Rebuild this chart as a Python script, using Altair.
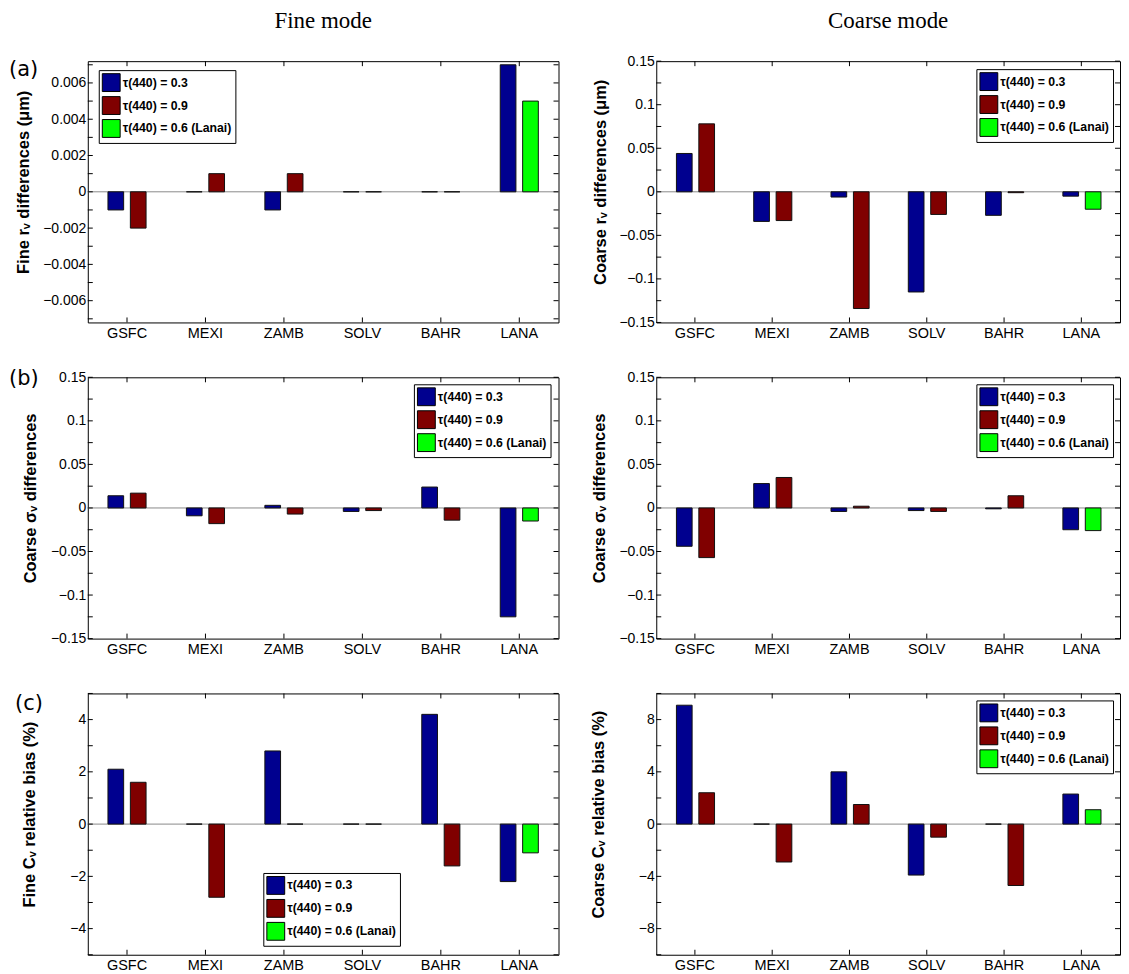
import altair as alt
import pandas as pd

SITES = ["GSFC", "MEXI", "ZAMB", "SOLV", "BAHR", "LANA"]
SERIES = ["τ(440) = 0.3", "τ(440) = 0.9", "τ(440) = 0.6 (Lanai)"]
COLORS = ["#00008F", "#800000", "#00FF00"]

# second value at LANA belongs to tau(440)=0.6 (Lanai)
FINE_RV_T03 = [-0.001, 0.0, -0.001, 0.0, 0.0, 0.007]
FINE_RV_T09 = [-0.002, 0.001, 0.001, 0.0, 0.0, 0.005]
COARSE_RV_T03 = [0.044, -0.034, -0.006, -0.115, -0.027, -0.005]
COARSE_RV_T09 = [0.078, -0.033, -0.134, -0.026, -0.001, -0.020]
FINE_SIG_T03 = [0.014, -0.009, 0.003, -0.004, 0.024, -0.125]
FINE_SIG_T09 = [0.017, -0.018, -0.007, -0.003, -0.014, -0.015]
COARSE_SIG_T03 = [-0.044, 0.028, -0.004, -0.003, -0.001, -0.025]
COARSE_SIG_T09 = [-0.057, 0.035, 0.002, -0.004, 0.014, -0.026]
FINE_CV_T03 = [2.1, 0.0, 2.8, 0.0, 4.2, -2.2]
FINE_CV_T09 = [1.6, -2.8, 0.0, 0.0, -1.6, -1.1]
COARSE_CV_T03 = [9.1, 0.0, 4.0, -3.9, 0.0, 2.3]
COARSE_CV_T09 = [2.4, -2.9, 1.5, -1.0, -4.7, 1.1]

COL_TITLES = ["Fine mode", "Coarse mode"]
PANEL_LABELS = ["(a)", "(b)", "(c)"]
Y_TITLES = [
    "Fine rᵥ differences (μm)",
    "Coarse rᵥ differences (μm)",
    "Coarse σᵥ differences",
    "Coarse σᵥ differences",
    "Fine Cᵥ relative bias (%)",
    "Coarse Cᵥ relative bias (%)",
]

DOM_A_FINE = [-0.0072, 0.0072]
TICKS_A_FINE = [-0.007, -0.006, -0.005, -0.004, -0.003, -0.002, -0.001, 0.0,
                0.001, 0.002, 0.003, 0.004, 0.005, 0.006, 0.007]
LABELS_A_FINE = [-0.006, -0.004, -0.002, 0.0, 0.002, 0.004, 0.006]

DOM_015 = [-0.15, 0.15]
TICKS_015 = [-0.15, -0.125, -0.1, -0.075, -0.05, -0.025, 0.0, 0.025, 0.05,
             0.075, 0.1, 0.125, 0.15]
LABELS_015 = [-0.15, -0.1, -0.05, 0.0, 0.05, 0.1, 0.15]

DOM_C_FINE = [-5, 5]
TICKS_C_FINE = [-5, -4, -3, -2, -1, 0, 1, 2, 3, 4, 5]
LABELS_C_FINE = [-4, -2, 0, 2, 4]

DOM_C_COARSE = [-10, 10]
TICKS_C_COARSE = [-10, -8, -6, -4, -2, 0, 2, 4, 6, 8, 10]
LABELS_C_COARSE = [-8, -4, 0, 4, 8]

H = 262
W_LEFT = 472
W_RIGHT = 465
SANS = "Liberation Sans"


def panel(v1, v2, ytitle, domain, ticks, labels, legend_xy, width,
          title_pad, plabel=None, plabel_xy=None, ctitle=None):
    rows = []
    for i, s in enumerate(SITES):
        rows.append({"site": s, "slot": "1", "series": SERIES[0], "value": v1[i]})
        rows.append({"site": s, "slot": "2",
                     "series": SERIES[2] if s == "LANA" else SERIES[1],
                     "value": v2[i]})
    df = pd.DataFrame(rows)

    xscale = alt.Scale(domain=SITES, paddingInner=0, paddingOuter=0)
    yscale = alt.Scale(domain=domain, nice=False, zero=False)

    xax = alt.Axis(title=None, ticks=False, tickSize=0, domain=False,
                   labelAngle=0, labelFontSize=14.5, labelColor="black",
                   labelPadding=4, grid=False, labelFont=SANS)
    yax = alt.Axis(title=ytitle, values=labels,
                   labelExpr="format(datum.value, '.6~g')", ticks=False,
                   tickSize=0, domain=False, grid=False, labelFontSize=14,
                   labelPadding=2, titleFontSize=16.5, titleFontWeight="bold",
                   titlePadding=title_pad, titleColor="black",
                   titleY=H / 2 - 10,
                   labelColor="black", labelFont=SANS, titleFont=SANS)

    base = alt.Chart(pd.DataFrame({"z": [0]})).mark_rule(
        color="#8a8a8a", strokeWidth=1
    ).encode(y=alt.Y("z:Q", scale=yscale, axis=yax))

    bars = alt.Chart(df).mark_bar(stroke="#111111", strokeWidth=1).encode(
        x=alt.X("site:N", scale=xscale, axis=xax, sort=SITES),
        xOffset=alt.XOffset("slot:N", scale=alt.Scale(
            domain=["1", "2"], paddingInner=0.3, paddingOuter=0.9)),
        y=alt.Y("value:Q", scale=yscale, axis=yax),
        color=alt.Color("series:N",
                        scale=alt.Scale(domain=SERIES, range=COLORS),
                        legend=alt.Legend(
                            title=None, orient="none",
                            legendX=legend_xy[0], legendY=legend_xy[1],
                            symbolType="square", symbolSize=320,
                            symbolStrokeColor="black", symbolStrokeWidth=1,
                            symbolOpacity=1, labelFont=SANS,
                            labelFontSize=12.3, labelFontWeight="bold",
                            labelColor="black", labelOffset=2,
                            strokeColor="black", fillColor="white",
                            padding=3, rowPadding=0)),
    )

    tdf = pd.DataFrame({"t": ticks})
    lt = alt.Chart(tdf).mark_rule(color="black", strokeWidth=1).encode(
        y=alt.Y("t:Q", scale=yscale, axis=yax),
        x=alt.value(0), x2=alt.value(5))
    rt = alt.Chart(tdf).mark_rule(color="black", strokeWidth=1).encode(
        y=alt.Y("t:Q", scale=yscale, axis=yax),
        x=alt.value(width - 5), x2=alt.value(width))
    sdf = pd.DataFrame({"site": SITES})
    bt = alt.Chart(sdf).mark_rule(color="black", strokeWidth=1).encode(
        x=alt.X("site:N", scale=xscale, axis=xax, sort=SITES),
        y=alt.value(H), y2=alt.value(H - 5))
    tt = alt.Chart(sdf).mark_rule(color="black", strokeWidth=1).encode(
        x=alt.X("site:N", scale=xscale, axis=xax, sort=SITES),
        y=alt.value(0), y2=alt.value(5))

    layers = [base, bars, lt, rt, bt, tt]
    if plabel is not None:
        layers.append(
            alt.Chart(pd.DataFrame({"lab": [plabel]})).mark_text(
                align="left", baseline="middle", fontSize=21,
                font="DejaVu Sans", color="black"
            ).encode(text="lab:N", x=alt.value(plabel_xy[0]),
                     y=alt.value(plabel_xy[1])))
    if ctitle is not None:
        layers.append(
            alt.Chart(pd.DataFrame({"ct": [ctitle]})).mark_text(
                align="center", baseline="alphabetic", fontSize=23,
                font="Liberation Serif", color="black"
            ).encode(text="ct:N", x=alt.value(width / 2), y=alt.value(-33)))
    return alt.layer(*layers).properties(width=width, height=H)


pa_l = panel(FINE_RV_T03, FINE_RV_T09, Y_TITLES[0], DOM_A_FINE, TICKS_A_FINE,
             LABELS_A_FINE, (11, 9), W_LEFT, 11.5, PANEL_LABELS[0], (-79, 9),
             COL_TITLES[0])
pa_r = panel(COARSE_RV_T03, COARSE_RV_T09, Y_TITLES[1], DOM_015, TICKS_015,
             LABELS_015, (321, 8), W_RIGHT, 10, ctitle=COL_TITLES[1])
pb_l = panel(FINE_SIG_T03, FINE_SIG_T09, Y_TITLES[2], DOM_015, TICKS_015,
             LABELS_015, (327, 7), W_LEFT, 12, PANEL_LABELS[1], (-79, 2))
pb_r = panel(COARSE_SIG_T03, COARSE_SIG_T09, Y_TITLES[3], DOM_015, TICKS_015,
             LABELS_015, (321, 7), W_RIGHT, 11)
pc_l = panel(FINE_CV_T03, FINE_CV_T09, Y_TITLES[4], DOM_C_FINE, TICKS_C_FINE,
             LABELS_C_FINE, (176, 180), W_LEFT, 32, PANEL_LABELS[2], (-73, 11))
pc_r = panel(COARSE_CV_T03, COARSE_CV_T09, Y_TITLES[5], DOM_C_COARSE,
             TICKS_C_COARSE, LABELS_C_COARSE, (321, 7), W_RIGHT, 32)

chart = alt.concat(
    pa_l, pa_r, pb_l, pb_r, pc_l, pc_r,
    columns=2, spacing={"row": 55, "column": 98}, bounds="flush",
).resolve_scale(
    color="independent", x="independent", y="independent"
).resolve_legend(color="independent").properties(
    padding=0, background="white"
).configure_view(
    stroke="black", strokeWidth=1
).configure_axis(
    labelFont=SANS, titleFont=SANS
).configure_legend(
    labelFont=SANS
)

chart.save("out.html", embed_options={"renderer": "svg", "actions": False})
